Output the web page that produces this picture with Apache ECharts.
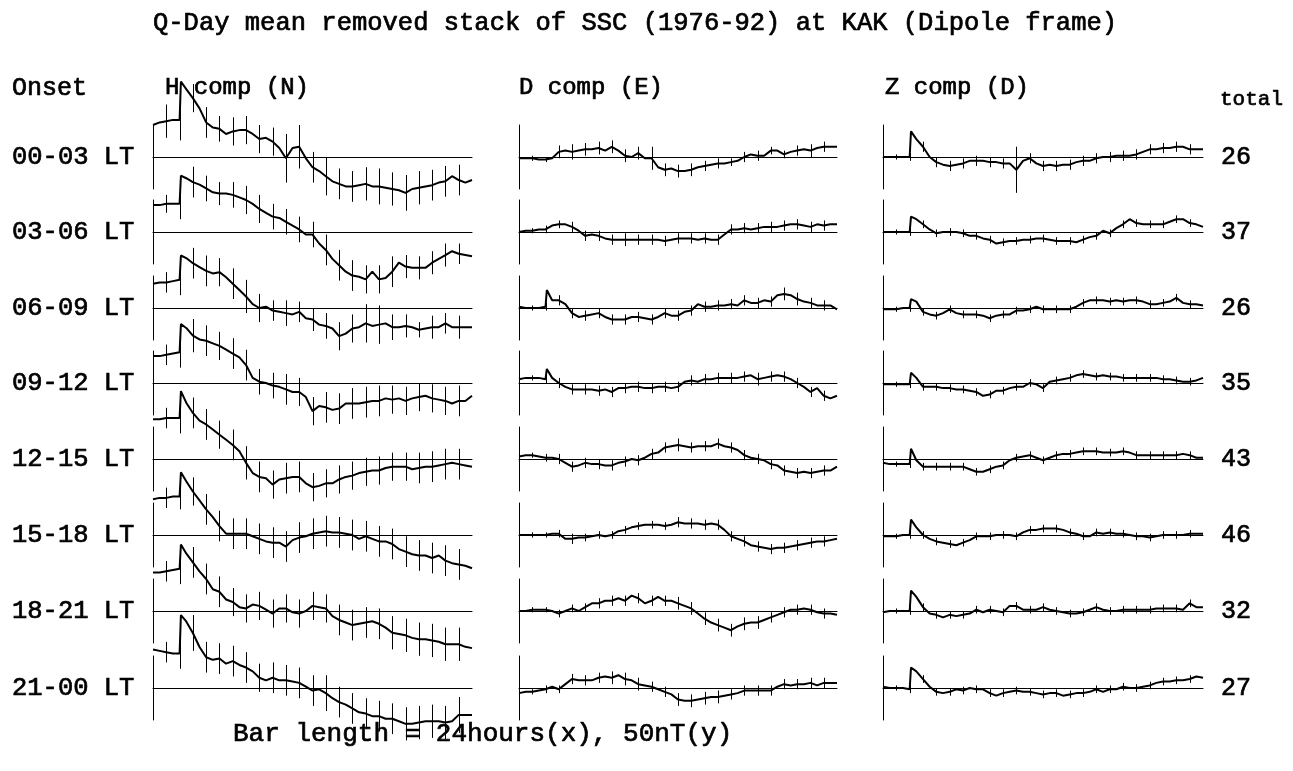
<!DOCTYPE html>
<html><head><meta charset="utf-8">
<script src="https://cdn.jsdelivr.net/npm/echarts@6/dist/echarts.min.js"></script>
<style>html,body{margin:0;padding:0;background:#fff}#c{width:1293px;height:771px}</style>
</head><body><div id="c"></div><script>
// time axis (hours; SSC onset at 2 h), bar = 24 hours
const T = [0,0.5,1,1.5,2,2.1,2.5,3,3.5,4,4.5,5,5.5,6,6.5,7,7.5,8,8.5,9,9.5,10,10.5,11,11.5,12,12.5,13,13.5,14,14.5,15,15.5,16,16.5,17,17.5,18,18.5,19,19.5,20,20.5,21,21.5,22,22.5,23,23.5,24];
const errHours = [1,2,3,4,5,6,7,8,9,10,11,12,13,14,15,16,17,18,19,20,21,22,23];
const onsetLabels = ['00-03 LT','03-06 LT','06-09 LT','09-12 LT','12-15 LT','15-18 LT','18-21 LT','21-00 LT'];
const totals = [26,37,26,35,43,46,32,27];
const compLabels = ['H comp (N)','D comp (E)','Z comp (D)'];

// H component (nT)
const hComp = [
 [25,27,28,29,29,59,53,46,38,27,23,22,18,20,21,21,18,14,15,12,7,-1,7,8,-1,-8,-11,-15,-19,-21,-23,-23,-22,-21,-23,-23,-24,-25,-26,-28,-25,-24,-23,-22,-20,-19,-15,-18,-20,-18],
 [21,21,22,22,22,44,42,39,37,34,31,30,30,29,27,25,22,18,15,12,11,8,5,2,-2,-2,-9,-14,-21,-26,-31,-34,-35,-37,-31,-37,-36,-31,-24,-27,-28,-28,-28,-24,-21,-18,-15,-17,-18,-19],
 [19,20,20,21,22,41,39,35,32,29,27,28,24,19,14,9,3,0,1,-2,-3,-4,-5,-3,-8,-9,-13,-14,-16,-22,-20,-16,-15,-12,-14,-13,-12,-15,-15,-14,-15,-17,-16,-15,-15,-12,-15,-15,-15,-15],
 [21,21,22,23,24,46,43,37,34,33,31,29,26,23,20,14,4,1,0,-2,-3,-5,-7,-7,-11,-22,-18,-19,-21,-20,-16,-16,-16,-15,-14,-14,-12,-13,-12,-14,-12,-11,-10,-12,-13,-14,-16,-14,-14,-10],
 [31,31,32,32,32,53,44,36,30,27,23,19,15,11,6,-3,-11,-14,-15,-20,-16,-15,-14,-14,-19,-22,-21,-19,-19,-16,-14,-13,-11,-10,-9,-9,-7,-6,-6,-6,-8,-7,-6,-6,-5,-4,-3,-4,-5,-6],
 [28,29,29,30,30,49,42,34,27,20,14,7,1,1,1,1,-1,-3,-5,-6,-6,-9,-4,-2,-1,1,2,3,2,2,1,0,-3,-1,-3,-5,-5,-7,-11,-13,-15,-16,-16,-18,-16,-20,-22,-23,-24,-26],
 [30,30,31,32,33,52,45,38,31,25,17,15,9,7,3,2,5,4,1,-2,2,2,-1,-2,0,4,3,2,-4,-7,-9,-11,-10,-9,-8,-10,-13,-17,-18,-19,-21,-22,-22,-23,-24,-26,-26,-26,-28,-29],
 [30,29,28,27,27,57,52,43,32,24,22,23,19,21,18,16,13,8,6,8,6,6,5,4,1,-2,-1,-4,-8,-11,-13,-16,-19,-20,-22,-22,-24,-24,-26,-28,-28,-27,-26,-26,-26,-27,-26,-21,-21,-21]
];
const hErr = [
 [13,16,11,12,10,11,11,11,11,19,17,12,15,12,12,13,14,13,14,13,12,12,12],
 [7,12,12,10,9,10,11,11,10,10,10,10,12,12,12,11,11,12,9,9,9,9,8],
 [8,12,12,12,11,12,13,11,8,10,8,9,10,11,11,15,15,10,9,6,9,8,9],
 [8,12,13,12,11,12,12,10,10,12,11,11,12,12,12,12,12,11,11,11,11,11,12],
 [8,12,12,12,11,12,13,12,11,12,12,11,11,11,11,11,11,11,11,12,12,12,12],
 [8,10,11,12,12,12,12,12,12,12,12,12,12,12,12,12,12,12,12,12,12,12,12],
 [8,12,12,12,12,11,11,11,11,11,11,11,11,12,12,12,12,13,13,13,13,13,13],
 [8,12,14,12,12,12,12,11,12,12,12,12,14,12,12,12,12,12,13,13,13,13,14]
];

// D component (nT)
const dComp = [
 [-1,-1,-1,-2,-2,-2,-1,4,5,4,5,6,6,7,5,8,5,1,0,3,-1,-1,-8,-10,-9,-11,-11,-10,-8,-7,-6,-5,-5,-4,-3,0,2,1,1,5,5,2,4,5,6,5,7,8,8,8],
 [0,1,1,2,2,2,5,6,6,4,1,-3,-2,-3,-5,-6,-6,-6,-6,-6,-6,-6,-6,-7,-6,-5,-5,-5,-6,-5,-6,-6,-2,2,2,3,2,3,4,4,4,5,6,6,5,4,6,5,6,6],
 [1,0,0,0,1,14,6,6,3,-4,-7,-6,-5,-4,-7,-9,-9,-9,-7,-7,-8,-9,-7,-4,-6,-6,-3,-2,3,1,1,2,2,3,2,6,4,4,6,5,10,11,10,7,5,4,2,2,2,-1],
 [3,4,4,4,3,11,4,0,-3,-5,-5,-5,-5,-6,-5,-7,-4,-4,-3,-3,-4,-4,-3,-3,-4,-3,1,2,1,3,3,4,4,4,4,5,6,3,4,5,6,5,3,0,-3,-7,-4,-10,-12,-10],
 [2,3,3,2,1,1,1,0,-3,-6,-5,-3,-4,-4,-5,-5,-3,-2,0,-1,1,4,5,9,10,11,10,9,10,10,10,12,10,9,7,3,1,0,-1,-4,-5,-9,-10,-11,-10,-11,-10,-9,-9,-6],
 [0,0,0,0,0,0,1,1,-3,-3,-2,-2,-1,0,-1,0,3,4,6,7,8,8,8,7,8,10,9,9,9,8,9,8,4,-1,-3,-5,-8,-9,-10,-11,-10,-10,-9,-8,-7,-6,-5,-5,-4,-3],
 [0,0,1,1,1,1,0,-2,0,2,0,3,6,6,8,8,10,8,12,10,6,8,11,8,8,6,4,2,-2,-6,-9,-11,-13,-15,-12,-10,-9,-9,-7,-5,-3,-1,1,1,2,1,-1,-2,-2,-3],
 [-4,-3,-3,-2,-1,0,1,-1,3,7,6,6,6,8,9,8,10,7,6,3,2,1,-1,-3,-5,-9,-10,-10,-9,-8,-7,-7,-6,-5,-4,-2,-2,-2,-2,-2,1,3,2,3,3,4,2,4,4,4]
];
const dErr = [
 [2,2,5,6,5,5,5,5,5,9,5,5,5,4,4,3,4,4,3,3,4,5,4],
 [2,3,3,4,4,4,4,5,4,4,4,4,4,4,4,4,4,4,4,4,4,4,4],
 [2,3,4,4,4,4,4,4,4,4,4,4,4,4,4,4,4,4,4,5,5,4,4],
 [2,3,4,4,4,4,4,4,4,4,4,4,4,4,4,4,4,5,4,4,4,4,4],
 [2,3,4,4,4,4,4,4,4,4,4,5,4,4,4,4,4,4,4,4,4,4,4],
 [2,2,3,4,3,3,3,3,3,3,3,4,4,4,4,4,4,4,4,4,4,4,4],
 [2,2,3,3,3,4,4,4,4,4,4,5,5,5,5,5,5,5,4,4,4,4,4],
 [2,3,3,4,4,4,5,5,5,4,4,5,5,5,5,4,4,4,4,4,4,4,4]
];

// Z component (nT)
const zComp = [
 [0,0,0,0,0,20,14,8,0,-4,-6,-7,-6,-5,-3,-3,-3,-4,-4,-5,-5,-10,-3,-1,-5,-7,-6,-7,-6,-6,-4,-3,-3,-1,0,0,1,1,1,2,4,6,6,7,7,8,8,6,6,6],
 [0,0,0,0,0,12,10,6,2,-1,0,0,0,-1,-3,-3,-5,-6,-9,-8,-7,-7,-6,-6,-5,-5,-6,-7,-7,-7,-8,-6,-4,-3,1,-1,3,6,10,7,6,6,6,6,8,10,10,7,6,4],
 [-1,-1,-1,0,0,7,5,-3,-5,-6,-4,-1,-4,-5,-5,-5,-6,-8,-6,-5,-5,-2,-2,-1,1,-1,-1,-1,-1,-1,1,4,6,6,6,5,6,5,6,6,5,3,3,4,5,8,4,3,3,2],
 [-1,-1,-1,-1,-1,8,4,-3,-3,-3,-4,-4,-5,-5,-6,-7,-10,-9,-6,-6,-4,-3,-3,0,-1,-4,1,2,3,4,6,7,6,5,6,5,5,4,4,4,4,4,4,3,3,2,1,1,2,4],
 [-3,-4,-4,-4,-4,8,-1,-6,-6,-6,-6,-6,-6,-6,-8,-10,-10,-8,-6,-5,-1,1,2,3,1,-1,1,3,4,4,5,6,6,6,5,5,5,6,5,3,3,3,3,3,3,3,4,3,1,1],
 [-1,-1,-1,0,0,12,6,0,-3,-5,-6,-7,-8,-6,-4,-1,-1,-1,0,0,0,-1,2,4,4,5,5,5,4,2,1,-1,-1,2,1,2,1,1,0,-1,-1,-2,-1,0,0,0,0,1,1,1],
 [-1,0,0,0,0,16,11,3,-2,-3,-5,-3,-4,-3,-2,1,-1,1,0,-1,4,4,1,1,1,3,1,0,-1,-2,-2,-1,1,3,1,0,0,1,1,1,1,1,2,2,2,2,1,6,3,3],
 [1,0,0,0,-1,16,13,7,1,-3,-4,-3,-1,-2,0,-1,-1,-4,-6,-4,-3,-2,-3,-3,-4,-5,-4,-4,-6,-5,-4,-4,-3,-1,-3,-1,-1,1,0,0,1,2,4,5,5,6,6,7,9,8]
];
const zErr = [
 [2,3,4,4,4,4,4,4,4,18,4,4,4,4,4,4,4,4,4,4,4,4,4],
 [2,3,3,3,3,3,3,3,3,3,3,3,3,3,3,3,3,3,3,3,3,3,3],
 [2,3,3,3,3,3,3,3,3,3,3,3,3,3,3,3,3,3,3,3,3,3,3],
 [2,3,3,3,3,3,3,3,3,3,3,3,3,3,3,3,3,3,3,3,3,3,3],
 [2,3,3,3,3,3,3,3,3,3,3,3,3,3,3,3,3,3,3,3,3,3,3],
 [2,3,3,3,3,3,3,3,3,3,3,3,3,3,3,3,3,3,3,3,3,3,3],
 [2,3,3,3,3,3,3,3,3,3,3,3,3,3,3,3,3,3,3,3,3,3,3],
 [2,3,3,3,3,3,3,3,3,3,3,3,3,3,3,3,3,3,3,3,3,3,3]
];

const comps = [hComp, dComp, zComp];
const errs = [hErr, dErr, zErr];

// layout
const colLeft = [153, 519, 883];
const colWidth = [319, 318, 320];
const rowBase = [157, 232, 308, 383, 459, 535, 611, 688];
const half = 32; // px for 25 nT (bar = 50 nT)
const FONT = '"Liberation Mono", "DejaVu Sans Mono", monospace';

const grid = [], xAxis = [], yAxis = [], series = [];
let k = 0;
for (let c = 0; c < 3; c++) {
  for (let r = 0; r < 8; r++) {
    grid.push({left: colLeft[c], width: colWidth[c], top: rowBase[r] - half, height: 2 * half, containLabel: false});
    xAxis.push({gridIndex: k, type: 'value', min: 0, max: 24,
      axisLine: {show: true, onZero: true, lineStyle: {color: '#000', width: 1}},
      axisTick: {show: false}, axisLabel: {show: false}, splitLine: {show: false}});
    yAxis.push({gridIndex: k, type: 'value', min: -25, max: 25,
      axisLine: {show: true, lineStyle: {color: '#000', width: 1}},
      axisTick: {show: false}, axisLabel: {show: false}, splitLine: {show: false}});
    const vals = comps[c][r];
    series.push({type: 'line', xAxisIndex: k, yAxisIndex: k, clip: false, silent: true,
      showSymbol: false, symbol: 'none', animation: false,
      lineStyle: {color: '#000', width: 2}, data: T.map((t, i) => [t, vals[i]])});
    const eb = errHours.map((h, i) => [h, vals[T.indexOf(h)], errs[c][r][i]]);
    series.push({type: 'custom', xAxisIndex: k, yAxisIndex: k, clip: false, silent: true, animation: false,
      dimensions: ['t', 'v', 'e'], encode: {x: 0, y: 1},
      renderItem: function (params, api) {
        const t = api.value(0), v = api.value(1), e = api.value(2);
        const p1 = api.coord([t, v - e]), p2 = api.coord([t, v + e]);
        const x = Math.round(p1[0]) + 0.5;
        return {type: 'line', shape: {x1: x, y1: p1[1], x2: x, y2: p2[1]},
          style: {stroke: '#000', lineWidth: 1}};
      },
      data: eb});
    k++;
  }
}

const graphic = [];
function txt(x, y, s, size, align) {
  graphic.push({type: 'text', x: x, y: y, silent: true,
    style: {text: s, fill: '#000', stroke: '#000', lineWidth: 0.7,
      font: 'normal ' + size + 'px ' + FONT, textAlign: align || 'left', textVerticalAlign: 'middle'}});
}
txt(153, 23, 'Q-Day mean removed stack of SSC (1976-92) at KAK (Dipole frame)', 25.5);
txt(12, 88, 'Onset', 25);
txt(165, 88, compLabels[0], 24);
txt(519, 88, compLabels[1], 24);
txt(885, 88, compLabels[2], 24);
txt(1220, 99, 'total', 21);
for (let r = 0; r < 8; r++) {
  txt(12, rowBase[r], onsetLabels[r], 25.5);
  txt(1221, rowBase[r], String(totals[r]), 25);
}
txt(233, 734, 'Bar length = 24hours(x), 50nT(y)', 26);

const chart = echarts.init(document.getElementById('c'), null, {renderer: 'canvas'});
chart.setOption({animation: false, backgroundColor: '#fff', grid, xAxis, yAxis, series, graphic});
</script></body></html>
